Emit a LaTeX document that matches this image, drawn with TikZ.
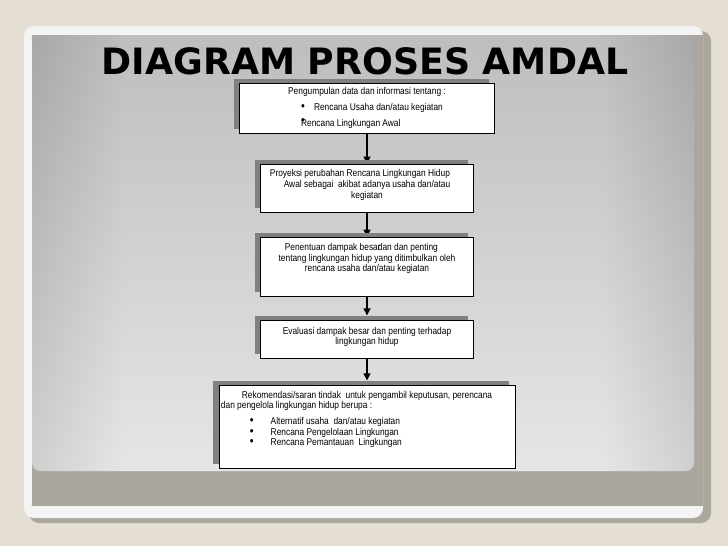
\documentclass[tikz,border=0pt]{standalone}
\usepackage{fontspec}
\setmainfont{Liberation Sans}
\newfontfamily\boxfont[FakeStretch=0.85]{Liberation Sans}
\newfontfamily\headfont{DejaVu Sans}
\usetikzlibrary{arrows.meta,shadows,backgrounds}
\definecolor{slidebeige}{HTML}{E4DED3}
\definecolor{slideshade}{HTML}{ABA79F}
\definecolor{slidewhite}{HTML}{F4F4F4}
\definecolor{pnldark}{HTML}{ADADAD}
\definecolor{pnllight}{HTML}{DADADA}
\pgfdeclarehorizontalshading{panelh}{100bp}{color(0bp)=(pnldark); color(25bp)=(pnldark);
  color(32bp)=(pnllight); color(68bp)=(pnllight); color(75bp)=(pnldark); color(100bp)=(pnldark)}
\pgfdeclarelayer{slide}
\pgfsetlayers{slide,background,main}
\newcommand{\pushup}[1]{\rule[-#1]{0pt}{0pt}}
\newcommand{\dotb}{\scalebox{1.3}{\textbullet}}
\newcommand{\bul}{\hspace*{20.6pt}\makebox[14.8pt][l]{\dotb}}
\tikzset{
  procbox/.style={draw=black, line width=0.6pt, fill=white, inner sep=2pt,
    font=\boxfont\fontsize{7}{7.6}\selectfont,
    general shadow={fill=black!50, shadow xshift=-4pt, shadow yshift=3pt}},
  flow/.style={-{Triangle[length=5pt, width=5pt]}, line width=1pt, draw=black},
  headtxt/.style={font=\headfont\bfseries\fontsize{25.8}{30}\selectfont, inner sep=0pt},
}

\begin{document}
\begin{tikzpicture}[x=0.025cm, y=-0.025cm]
  \useasboundingbox (0,0) rectangle (728,546);
  % slide frame
  \begin{pgfonlayer}{slide}
    \fill[slidebeige] (0,0) rectangle (728,546);
    \fill[slideshade, rounded corners=0.25cm] (29,31) rectangle (711,523);
    \fill[slidewhite, rounded corners=0.25cm] (24,26) rectangle (703,518);
    \fill[slideshade] (32,35) rectangle (703,506);
    \shade[shading=panelh, rounded corners=0.2cm] (32,35) rectangle (694,471);
    \shade[top color=black!36, bottom color=black!5, opacity=0.5, rounded corners=0.2cm]
      (32,35) rectangle (694,471);
  \end{pgfonlayer}
  % title
  \node[headtxt] (title) at (365,61.5) {DIAGRAM PROSES AMDAL};
  % steps
  \node[procbox, minimum width=6.375cm, minimum height=1.25cm, align=left] (b1) at (367,108)
    {Pengumpulan data dan informasi tentang :\\[3.8pt]
     \hspace*{9.2pt}\makebox[9.2pt][l]{\dotb}Rencana Usaha dan/atau kegiatan\\[3.2pt]
     \hspace*{9.2pt}\rlap{\raisebox{1.5pt}{\dotb}}Rencana Lingkungan Awal};
  \node[procbox, minimum width=5.325cm, minimum height=1.2cm, align=center] (b2) at (367,188)
    {Proyeksi perubahan Rencana Lingkungan Hidup\hspace*{10pt}\\
     Awal sebagai~ akibat adanya usaha dan/atau\\
     kegiatan\pushup{5.8pt}};
  \node[procbox, minimum width=5.325cm, minimum height=1.475cm, align=center] (b3) at (367,266.5)
    {Penentuan dampak besa\rlap{r}dan dan penting\hspace*{8pt}\\
     tentang lingkungan hidup yang ditimbulkan oleh\\
     rencana usaha dan/atau kegiatan\pushup{12.8pt}};
  \node[procbox, minimum width=5.325cm, minimum height=0.95cm, align=center] (b4) at (367,339)
    {Evaluasi dampak besar dan penting terhadap\\
     lingkungan hidup\pushup{4.3pt}};
  \node[procbox, text width=7.3cm, inner xsep=1.4pt, minimum height=2.075cm, align=flush left] (b5) at (367,426.5)
    {\hspace*{14.9pt}Rekomendasi/saran tindak~ untuk pengambil keputusan, perencana\\
     dan pengelola lingkungan hidup berupa :\\[3.5pt]
     \bul Alternatif usaha~ dan/atau kegiatan\\
     \bul Rencana Pengelolaan Lingkungan\\
     \bul Rencana Pemantauan~ Lingkungan\pushup{11.5pt}};
  % links
  \begin{scope}[on background layer]
    \draw[flow] (b1) -- (b2);
    \draw[flow] (b2) -- (b3);
    \draw[flow, shorten >=3pt] (b3) -- (b4);
    \draw[flow, shorten >=3pt] (b4) -- (b5);
  \end{scope}
\end{tikzpicture}
\end{document}
